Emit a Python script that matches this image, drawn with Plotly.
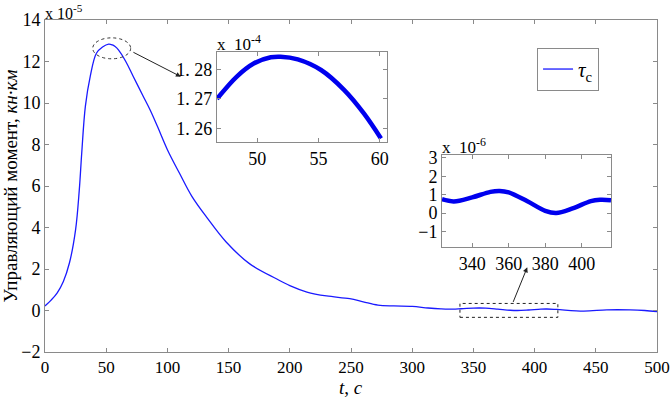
import plotly.graph_objects as go

# Main series (values in units of 1e-5)
t_main = [0, 5, 10, 15, 20, 25, 28, 30, 33, 37, 42, 47, 52, 55, 57, 60, 66, 72, 80, 86, 92,
          100, 110, 120, 132, 148, 167, 189, 200, 214, 230, 249, 260, 272, 285, 300, 313,
          323.5, 330, 340, 350, 355, 360, 370, 380, 386, 395, 405, 410, 418, 440, 459, 478, 490, 500]
v_main = [0.22, 0.5, 0.85, 1.4, 2.3, 3.9, 5.8, 7.58, 9.85, 11.3, 12.4, 12.70, 12.84, 12.80, 12.73, 12.56, 12.0, 11.29, 10.35, 9.65, 8.85,
          7.75, 6.6, 5.5, 4.5, 3.3, 2.26, 1.53, 1.2, 0.89, 0.7, 0.57, 0.42, 0.26, 0.22, 0.2, 0.12,
          0.075, 0.063, 0.085, 0.115, 0.12, 0.112, 0.065, 0.012, 0.0, 0.025, 0.065, 0.072, 0.05, -0.03, 0.03, 0.03, 0.0, -0.05]

# Inset 1 (values in units of 1e-4)
t_in1 = [46.7, 48.3, 49.7, 51.1, 51.9, 53.3, 55.2, 57.1, 58.7, 60.1]
v_in1 = [1.2700, 1.2775, 1.2820, 1.2841, 1.2843, 1.2834, 1.2798, 1.2730, 1.2651, 1.2566]

# Inset 2 (values in units of 1e-6)
t_in2 = [323.5, 330, 340, 350, 355, 360, 370, 380, 386, 395, 405, 410, 416]
v_in2 = [0.75, 0.63, 0.85, 1.15, 1.2, 1.12, 0.65, 0.12, 0.0, 0.25, 0.65, 0.72, 0.7]

x_ticks_main = list(range(0, 501, 50))
y_ticks_main = list(range(-2, 15, 2))
in1_yticks = [1.26, 1.27, 1.28]
in1_yticktext = ["1. 26", "1. 27", "1. 28"]
in1_xticks = [50, 55, 60]
in2_xticks = [340, 360, 380, 400]
in2_yticks = [-1, 0, 1, 2, 3]

FONT = "Times New Roman, Liberation Serif, DejaVu Serif, serif"
GRID = "#8a8a8a"

fig = go.Figure()
fig.add_trace(go.Scatter(x=t_main, y=v_main, mode="lines", line=dict(color="#1a1aff", width=1.3, shape="spline"),
                         name="<i>τ</i><sub>c</sub>", xaxis="x", yaxis="y"))
fig.add_trace(go.Scatter(x=t_in1, y=v_in1, mode="lines", line=dict(color="#0000ee", width=4.5, shape="spline"),
                         showlegend=False, xaxis="x2", yaxis="y2"))
fig.add_trace(go.Scatter(x=t_in2, y=v_in2, mode="lines", line=dict(color="#0000ee", width=4.5, shape="spline"),
                         showlegend=False, xaxis="x3", yaxis="y3"))

axcommon = dict(showgrid=False, zeroline=False, showline=True, linecolor=GRID, linewidth=1, mirror="ticks",
                ticks="inside", tickcolor=GRID, ticklen=4, automargin=False,
                tickfont=dict(family=FONT, size=18, color="black"))
main_x = dict(axcommon, tickfont=dict(family=FONT, size=17, color="black"))

fig.update_layout(
    template="none",
    width=671, height=397,
    margin=dict(l=45, r=14, t=20, b=45),
    paper_bgcolor="white", plot_bgcolor="white",
    font=dict(family=FONT, color="black"),
    xaxis=dict(range=[0, 500], tickvals=x_ticks_main, domain=[0, 1], **main_x),
    yaxis=dict(range=[-2, 14], tickvals=y_ticks_main, domain=[0, 1],
               title=dict(text="Управляющий момент, <i>кн·км</i>", font=dict(family=FONT, size=19), standoff=2), **axcommon),
    xaxis2=dict(range=[46.7, 60.6], tickvals=in1_xticks, domain=[0.281, 0.559], anchor="y2", **axcommon),
    yaxis2=dict(range=[1.2554, 1.2859], tickvals=in1_yticks, ticktext=in1_yticktext, domain=[0.6325, 0.9036], anchor="x2", **axcommon),
    xaxis3=dict(range=[323.5, 416], tickvals=in2_xticks, domain=[0.6487, 0.9248], anchor="y3", **axcommon),
    yaxis3=dict(range=[-1.84, 3.15], tickvals=in2_yticks, domain=[0.3163, 0.5934], anchor="x3", **axcommon),
    legend=dict(x=0.804, y=0.916, xanchor="left", yanchor="top", bordercolor=GRID, borderwidth=1,
                bgcolor="white", font=dict(family=FONT, size=21)),
)

# x-axis title as annotation below tick labels
fig.add_annotation(x=0.5, y=0, xref="x domain", yref="y domain", xanchor="center", yanchor="top",
                   text="<i>t</i>, <i>c</i>", showarrow=False, font=dict(family=FONT, size=19), yshift=-23)

# Inset backgrounds
fig.add_shape(type="rect", xref="x2 domain", yref="y2 domain", x0=0, x1=1, y0=0, y1=1,
              fillcolor="white", line=dict(width=0), layer="below")
fig.add_shape(type="rect", xref="x3 domain", yref="y3 domain", x0=0, x1=1, y0=0, y1=1,
              fillcolor="white", line=dict(width=0), layer="below")

# Zoom markers
fig.add_shape(type="circle", xref="x", yref="y", x0=39, x1=70, y0=12.13, y1=13.14,
              line=dict(color="#333333", width=1, dash="dot"))
fig.add_shape(type="rect", xref="x", yref="y", x0=339, x1=419, y0=-0.33, y1=0.34,
              line=dict(color="#222222", width=1, dash="dot"))

fig.add_annotation(x=111, y=11.27, ax=71, ay=12.48, xref="x", yref="y", axref="x", ayref="y",
                   showarrow=True, arrowhead=2, arrowsize=1, arrowwidth=1, arrowcolor="#222222", text="")
fig.add_annotation(x=394, y=2.08, ax=382, ay=0.34, xref="x", yref="y", axref="x", ayref="y",
                   showarrow=True, arrowhead=2, arrowsize=1, arrowwidth=1, arrowcolor="#222222", text="")

# Exponent labels
fig.add_annotation(x=0, y=1, xref="x domain", yref="y domain", xanchor="left", yanchor="bottom",
                   text="x 10<sup>-5</sup>", showarrow=False, font=dict(family=FONT, size=16), xshift=-2, yshift=-4)
fig.add_annotation(x=0, y=1, xref="x2 domain", yref="y2 domain", xanchor="left", yanchor="bottom",
                   text="x  10<sup>-4</sup>", showarrow=False, font=dict(family=FONT, size=17), xshift=-2, yshift=-4)
fig.add_annotation(x=0, y=1, xref="x3 domain", yref="y3 domain", xanchor="left", yanchor="bottom",
                   text="x  10<sup>-6</sup>", showarrow=False, font=dict(family=FONT, size=17), xshift=-2, yshift=-4)

fig.write_html("out.html", config={"displayModeBar": False},
               post_script="document.body.style.margin='0';document.body.style.padding='0';")
